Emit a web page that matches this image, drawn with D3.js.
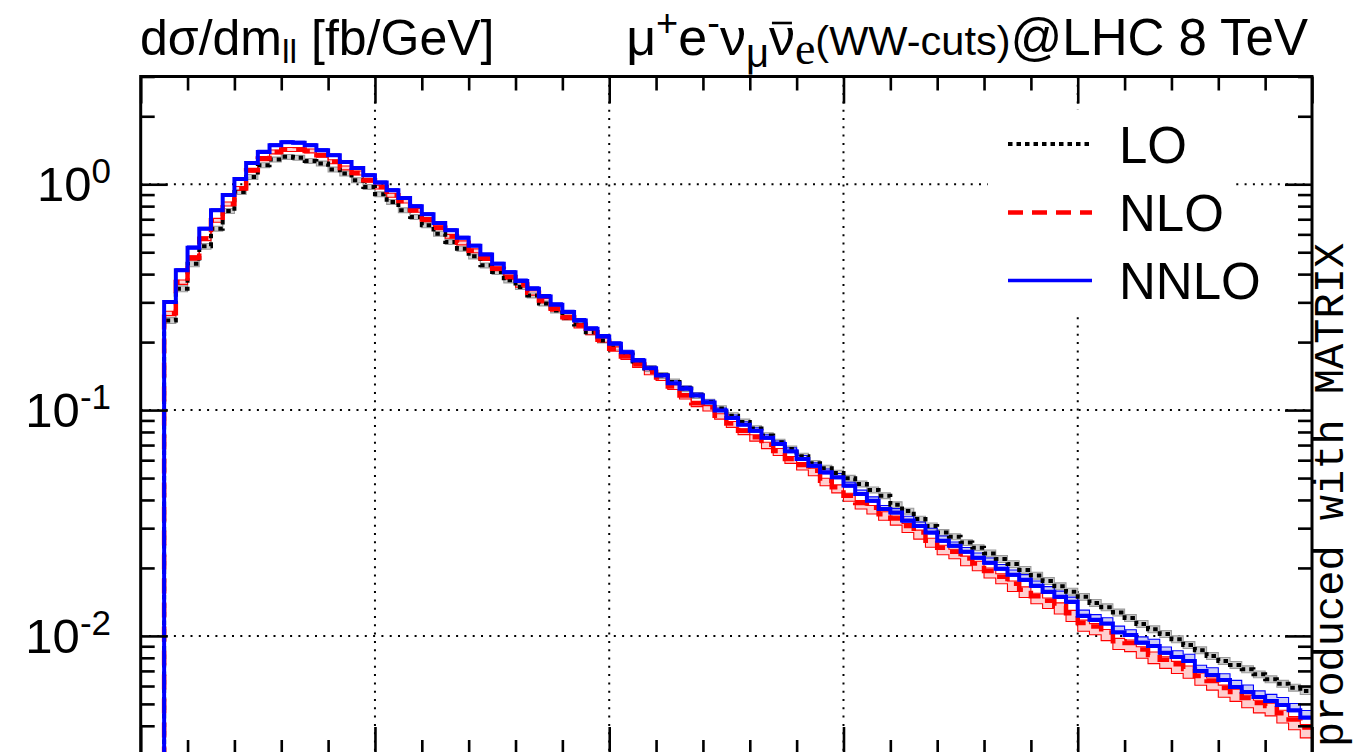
<!DOCTYPE html>
<html>
<head>
<meta charset="utf-8">
<script src="https://cdn.jsdelivr.net/npm/d3@7"></script>
<style>
  body { margin: 0; background: #fff; }
  svg { display: block; }
  text { font-family: "Liberation Sans", Arial, Helvetica, sans-serif; fill: #000; }
</style>
</head>
<body>
<svg id="chart" width="1357" height="752"></svg>
<script>
// m_ll bins (lower edges, GeV), 5 GeV wide
const binLow = [10,15,20,25,30,35,40,45,50,55,60,65,70,75,80,85,90,95,100,105,110,115,120,125,130,135,140,145,150,155,160,165,170,175,180,185,190,195,200,205,210,215,220,225,230,235,240,245,250,255,260,265,270,275,280,285,290,295,300,305,310,315,320,325,330,335,340,345,350,355,360,365,370,375,380,385,390,395,400,405,410,415,420,425,430,435,440,445,450,455,460,465,470,475,480,485,490,495];
const binWidth = 5;

// dσ/dm_ll [fb/GeV]
const lo = [0.2493,0.3446,0.4448,0.531,0.636,0.761,0.924,1.077,1.214,1.287,
  1.322,1.31,1.269,1.235,1.162,1.115,1.042,0.973,0.903,0.835,
  0.767,0.716,0.658,0.6044,0.5547,0.5187,0.4794,0.4373,0.4085,0.3753,
  0.3505,0.322,0.2967,0.2763,0.2571,0.2394,0.2213,0.2033,0.1893,0.1762,
  0.1641,0.1528,0.1422,0.1331,0.1245,0.116,0.1085,0.1015,0.0945,0.0885,
  0.0828,0.0771,0.0721,0.0672,0.0625,0.0581,0.0553,0.0526,0.0499,0.0471,
  0.0443,0.0418,0.0381,0.0357,0.0329,0.0307,0.0287,0.0275,0.0259,0.0246,
  0.0232,0.0219,0.0208,0.0196,0.0185,0.0175,0.0166,0.0157,0.0149,0.014,
  0.0134,0.0127,0.012,0.0113,0.0107,0.0102,0.00967,0.00912,0.00864,0.00815,
  0.00775,0.00744,0.00712,0.00676,0.00643,0.00614,0.0059,0.0057];

const nlo = [0.2687,0.3695,0.4731,0.5743,0.6924,0.8178,0.958,1.154,1.299,1.391,
  1.425,1.424,1.405,1.345,1.258,1.181,1.122,1.042,0.972,0.894,
  0.843,0.767,0.6973,0.6418,0.588,0.5502,0.5073,0.4697,0.4228,0.388,
  0.3594,0.331,0.3059,0.2811,0.2579,0.2369,0.2211,0.2048,0.1868,0.1727,
  0.1591,0.1478,0.1393,0.1271,0.116,0.1073,0.1026,0.0945,0.0873,0.0811,
  0.0759,0.0703,0.0659,0.0608,0.0571,0.0539,0.0487,0.0455,0.0418,0.0388,
  0.0369,0.0346,0.0331,0.0307,0.0287,0.0264,0.0246,0.0236,0.022,0.0209,
  0.0194,0.0183,0.017,0.016,0.015,0.0143,0.0136,0.0126,0.0114,0.011,
  0.01036,0.00947,0.00931,0.0087,0.00824,0.00785,0.00749,0.00714,0.00665,0.00632,
  0.00588,0.00564,0.00531,0.00504,0.00489,0.00455,0.00427,0.00393];

const nnlo = [0.301,0.416,0.524,0.636,0.767,0.897,1.056,1.243,1.391,1.489,
  1.536,1.525,1.489,1.415,1.345,1.256,1.181,1.096,1.017,0.94,
  0.87,0.799,0.736,0.674,0.625,0.579,0.534,0.489,0.445,0.408,
  0.3725,0.3446,0.3187,0.2928,0.2715,0.2493,0.2291,0.2118,0.1966,0.1804,
  0.1658,0.1532,0.1422,0.1315,0.1242,0.116,0.108,0.0995,0.0923,0.0862,
  0.0811,0.0755,0.0708,0.0657,0.0608,0.0567,0.053,0.0504,0.0463,0.0425,
  0.0397,0.0365,0.0352,0.0324,0.0307,0.0287,0.02638,0.02506,0.02358,0.02217,
  0.02107,0.01982,0.01865,0.01771,0.01666,0.01567,0.01489,0.01415,0.01227,0.01178,
  0.01136,0.01038,0.0101,0.00934,0.00903,0.00843,0.00807,0.00775,0.007,0.00672,
  0.00638,0.00594,0.00564,0.00536,0.00515,0.00494,0.00469,0.00435];

// scale-variation bands, percent of the central value
const loBandPct = [3,3,3,3,2.5,2.5,2.5,2.5,2.5,2.5,
  2.5,2.5,2.5,2.5,2.5,2.5,2.5,2.5,2.5,2.5,
  2.5,2.5,2.5,2.5,2.5,2.5,2.5,2.5,2.5,2.5,
  2.5,2.5,2.5,2.5,2.5,2.5,2.5,2.5,2.5,2.5,
  3,3,3,3,3,3,3,3,3,3,
  3,3,3,3,3,3,3,3,3,3,
  3,3,3,3,3,3,3,3,3,3,
  3.5,3.5,3.5,3.5,3.5,3.5,3.5,3.5,3.5,3.5,
  3.5,3.5,3.5,3.5,3.5,3.5,3.5,3.5,3.5,3.5,
  3.5,3.5,3.5,3.5,3.5,3.5,3.5,3.5];
const nloUpPct = [2,2,2,2,2,2,2,2,2,2,
  2,2,2,2,2,2,2,2,2,2,
  2,2,2,2,2,2,2,2,2,2,
  2,2,2,2,2,2,2,2,2,2,
  2,2,2,2,2,2,2,2,2,2,
  2.5,2.5,2.5,2.5,2.5,2.5,2.5,2.5,2.5,2.5,
  2.5,2.5,2.5,2.5,2.5,2.5,2.5,2.5,2.5,2.5,
  3,3,3,3,3,3,3,3,3,3,
  3,3,3,3,3,3,3,3,3,3,
  3,3,3,3,3,3,3,3];
const nloDownPct = [2.5,2.5,2.5,2,2,2,2,2,2,2,
  2,2,2,2,2,2,2,2,2,2,
  2,2,2,2,2,2,2,2,2,2,
  2.5,2.5,2.5,2.5,2.5,2.5,2.5,2.5,2.5,3,
  3,3,3,3,3.5,3.5,3.5,3.5,4,4,
  4,4,4.5,4.5,5,5,5,5.5,5.5,6,
  6,6,6.5,6.5,6.5,6.5,7,7,7,7,
  7,7,7.5,7.5,7.5,7.5,8,8,8,8,
  8,8,8.5,8.5,8.5,8.5,9,9,9,9,
  9,9,9.5,9.5,9.5,9.5,10,10];
const nnloUpPct = [1.5,1.5,1.5,1.5,1.5,1.5,1.5,1.5,1.5,1.5,
  1.5,1.5,1.5,1.5,1.5,1.5,1.5,1.5,1.5,1.5,
  1.5,1.5,1.5,1.5,1.5,1.5,1.5,1.5,1.5,1.5,
  2,2,2,2,2,2,2,2,2,2,
  2,2,2,2.5,2.5,2.5,2.5,2.5,3,3,
  3,3,3,3.5,3.5,3,3.5,4,3.5,4,
  4,3.5,4,4.5,4,4.5,5,4,4.5,5,
  5,4.5,5,5.5,5,5.5,6,5,6,5.5,
  6,6.5,5.5,6,7,6,6.5,7,6,7.5,
  6.5,7,7.5,6.5,7,8,7,7.5];
const nnloDownPct = [1,1,1,1,1,1,1,1,1,1,
  1,1,1,1,1,1,1,1,1,1,
  1,1,1,1,1,1,1,1,1,1,
  1,1,1,1,1,1,1,1,1,1,
  1,1,1,1,1,1,1,1,1,1,
  1.5,1.5,1.5,1.5,1.5,1.5,1.5,1.5,1.5,1.5,
  1.5,1.5,1.5,1.5,1.5,1.5,1.5,1.5,1.5,1.5,
  1.5,1.5,1.5,1.5,1.5,1.5,1.5,1.5,1.5,1.5,
  1.5,1.5,1.5,1.5,1.5,1.5,1.5,1.5,1.5,1.5,
  1.5,1.5,1.5,1.5,1.5,1.5,1.5,1.5];

// axes
const xDomain = [0, 500];
const yDomain = [0.003, 3];
const xMajorTicks = [0, 100, 200, 300, 400, 500];
const xMinorTicks = [20,40,60,80,120,140,160,180,220,240,260,280,320,340,360,380,420,440,460,480];
const yMajorTicks = [0.01, 0.1, 1];
const yMinorTicks = [0.003,0.004,0.005,0.006,0.007,0.008,0.009,0.02,0.03,0.04,0.05,0.06,0.07,0.08,0.09,0.2,0.3,0.4,0.5,0.6,0.7,0.8,0.9,2,3];
const yLabelExponents = ["-2", "-1", "0"];
const legendLabels = ["LO", "NLO", "NNLO"];

const plotL = 140.7, plotR = 1312, plotT = 76.5, plotB = 754;
const svg = d3.select("#chart");

const x = d3.scaleLinear().domain(xDomain).range([plotL, plotR]);
const y = d3.scaleLog().domain(yDomain).range([plotB, plotT]);

svg.append("defs").append("clipPath").attr("id", "plotclip")
  .append("rect").attr("x", plotL).attr("y", plotT)
  .attr("width", plotR - plotL).attr("height", plotB - plotT);

// dotted grid at the major ticks
const grid = svg.append("g").attr("stroke", "#000").attr("stroke-width", 2)
  .attr("stroke-dasharray", "2,6.3");
grid.selectAll(".gx").data(xMajorTicks.slice(1, -1)).join("line").attr("class", "gx")
  .attr("x1", d => x(d)).attr("x2", d => x(d)).attr("y1", plotT).attr("y2", plotB);
grid.selectAll(".gy").data(yMajorTicks).join("line").attr("class", "gy")
  .attr("y1", d => y(d)).attr("y2", d => y(d)).attr("x1", plotL).attr("x2", plotR);

// histogram helpers
const lastEdge = binLow[binLow.length - 1] + binWidth;
function histPoints(vals) {
  const pts = [[binLow[0], 1e-5]];
  vals.forEach((v, i) => pts.push([binLow[i], v]));
  pts.push([lastEdge, vals[vals.length - 1]]);
  return pts;
}
function bandPoints(vals, upPct, downPct) {
  const pts = vals.map((v, i) => [binLow[i], v * (1 - downPct[i] / 100), v * (1 + upPct[i] / 100)]);
  const l = pts[pts.length - 1];
  pts.push([lastEdge, l[1], l[2]]);
  return pts;
}
const stepLine = d3.line().x(d => x(d[0])).y(d => y(d[1])).curve(d3.curveStepAfter);
const stepArea = d3.area().x(d => x(d[0])).y0(d => y(d[1])).y1(d => y(d[2])).curve(d3.curveStepAfter);
const lowLine = d3.line().x(d => x(d[0])).y(d => y(d[1])).curve(d3.curveStepAfter);
const highLine = d3.line().x(d => x(d[0])).y(d => y(d[2])).curve(d3.curveStepAfter);

const plot = svg.append("g").attr("clip-path", "url(#plotclip)");

const bands = [
  { pts: bandPoints(lo, loBandPct, loBandPct), fill: "#cfcfcf", edge: "#9a9a9a" },
  { pts: bandPoints(nlo, nloUpPct, nloDownPct), fill: "#ffcfcf", edge: "#ff0000" },
  { pts: bandPoints(nnlo, nnloUpPct, nnloDownPct), fill: "#cdcdf6", edge: "#0000ff" }
];
bands.forEach(b => {
  plot.append("path").attr("d", stepArea(b.pts)).attr("fill", b.fill).attr("stroke", "none");
});
bands.forEach(b => {
  plot.append("path").attr("d", lowLine(b.pts)).attr("fill", "none").attr("stroke", b.edge).attr("stroke-width", 1.1);
  plot.append("path").attr("d", highLine(b.pts)).attr("fill", "none").attr("stroke", b.edge).attr("stroke-width", 1.1);
});

const series = [
  { vals: lo, color: "#000000", width: 4, dash: "4.5,4" },
  { vals: nlo, color: "#ff0000", width: 4.5, dash: "15,9" },
  { vals: nnlo, color: "#0000ff", width: 4, dash: null }
];
series.forEach(s => {
  plot.append("path").attr("d", stepLine(histPoints(s.vals)))
    .attr("fill", "none").attr("stroke", s.color).attr("stroke-width", s.width)
    .attr("stroke-dasharray", s.dash).attr("stroke-linejoin", "miter").attr("stroke-linecap", "butt");
});

// ticks on all four sides, pointing inwards
function styleAxis(g) {
  g.select(".domain").remove();
  g.selectAll(".tick line").attr("stroke", "#000").attr("stroke-width", 2.6);
  g.selectAll(".tick text").remove();
}
svg.append("g").attr("transform", `translate(0,${plotB})`)
  .call(d3.axisBottom(x).tickValues(xMajorTicks).tickSize(-27).tickFormat("")).call(styleAxis);
svg.append("g").attr("transform", `translate(0,${plotB})`)
  .call(d3.axisBottom(x).tickValues(xMinorTicks).tickSize(-14).tickFormat("")).call(styleAxis);
svg.append("g").attr("transform", `translate(0,${plotT})`)
  .call(d3.axisTop(x).tickValues(xMajorTicks).tickSize(-27).tickFormat("")).call(styleAxis);
svg.append("g").attr("transform", `translate(0,${plotT})`)
  .call(d3.axisTop(x).tickValues(xMinorTicks).tickSize(-14).tickFormat("")).call(styleAxis);
svg.append("g").attr("transform", `translate(${plotL},0)`)
  .call(d3.axisLeft(y).tickValues(yMajorTicks).tickSize(-27).tickFormat("")).call(styleAxis);
svg.append("g").attr("transform", `translate(${plotL},0)`)
  .call(d3.axisLeft(y).tickValues(yMinorTicks).tickSize(-14).tickFormat("")).call(styleAxis);
svg.append("g").attr("transform", `translate(${plotR},0)`)
  .call(d3.axisRight(y).tickValues(yMajorTicks).tickSize(-27).tickFormat("")).call(styleAxis);
svg.append("g").attr("transform", `translate(${plotR},0)`)
  .call(d3.axisRight(y).tickValues(yMinorTicks).tickSize(-14).tickFormat("")).call(styleAxis);

// frame
svg.append("rect").attr("x", plotL).attr("y", plotT).attr("width", plotR - plotL).attr("height", plotB - plotT)
  .attr("fill", "none").attr("stroke", "#000").attr("stroke-width", 3);

// y tick labels 10^n
yMajorTicks.forEach((v, i) => {
  const t = svg.append("text").attr("x", 111).attr("y", y(v) + 17).attr("text-anchor", "end")
    .style("font-size", "49px");
  t.append("tspan").text("10");
  t.append("tspan").attr("dy", -18).style("font-size", "35px").text(yLabelExponents[i]);
});

// legend
const legend = svg.append("g");
legend.append("rect").attr("x", 988).attr("y", 110).attr("width", 242).attr("height", 203).attr("fill", "#fff");
const legendY = [144, 212.5, 280.5];
series.forEach((s, i) => {
  legend.append("line").attr("x1", 1008).attr("x2", 1092).attr("y1", legendY[i]).attr("y2", legendY[i])
    .attr("stroke", s.color).attr("stroke-width", i === 2 ? 3.5 : s.width).attr("stroke-dasharray", s.dash);
  legend.append("text").attr("x", 1119).attr("y", legendY[i] + 18.5).style("font-size", "51px").text(legendLabels[i]);
});

// titles
const tl = svg.append("text").attr("x", 140).attr("y", 55).style("font-size", "50px");
tl.append("tspan").text("dσ/dm");
tl.append("tspan").attr("dy", 8).style("font-size", "34px").text("ll");
tl.append("tspan").attr("dy", -8).text(" [fb/GeV]");

const tr = svg.append("text").attr("x", 1308).attr("y", 55).attr("text-anchor", "end").style("font-size", "51px");
tr.append("tspan").style("font-size", "52px").text("μ");
tr.append("tspan").attr("dy", -19).style("font-size", "38px").text("+");
tr.append("tspan").attr("dy", 19).style("font-size", "52px").text("e");
tr.append("tspan").attr("dy", -19).style("font-size", "38px").text("-");
tr.append("tspan").attr("dy", 19).style("font-size", "52px").text("ν");
tr.append("tspan").attr("dy", 12).style("font-size", "40px").text("μ");
const nuBar = tr.append("tspan").attr("dy", -12).style("font-size", "52px").text("ν");
tr.append("tspan").attr("dy", 9).style("font-size", "46px").style("font-family", "'Liberation Serif', serif").text("e");
tr.append("tspan").attr("dy", -9).style("font-size", "41.5px").text("(WW-cuts)");
tr.append("tspan").text("@LHC 8 TeV");

// bar over the antineutrino
const nb = nuBar.node().getBBox();
svg.append("line").attr("x1", nb.x + 3).attr("x2", nb.x + nb.width - 3)
  .attr("y1", 23).attr("y2", 23).attr("stroke", "#000").attr("stroke-width", 2.6);

// program credit
svg.append("text").attr("transform", "translate(1343,747) rotate(-90)")
  .style("font-family", "'Liberation Mono', 'DejaVu Sans Mono', monospace").style("font-size", "42px")
  .text("produced with MATRIX");
</script>
</body>
</html>
